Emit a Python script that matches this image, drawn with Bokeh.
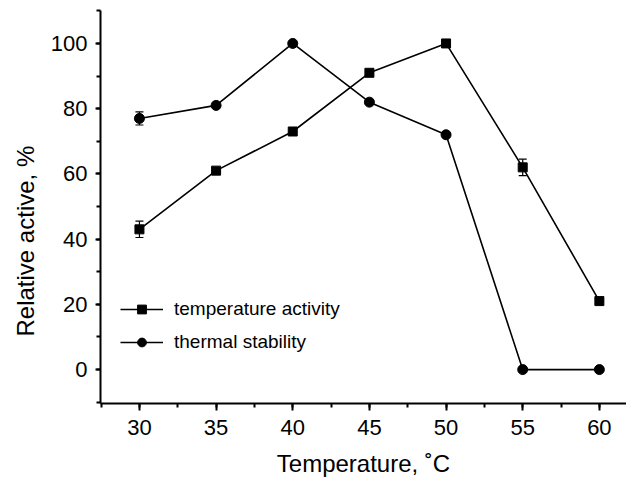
from bokeh.plotting import figure
from bokeh.models import (ColumnDataSource, SingleIntervalTicker, Legend, LegendItem,
                          Whisker, TeeHead, Range1d, Title)
from bokeh.embed import file_html
from bokeh.resources import INLINE

# ---- data ----
temperature = [30, 35, 40, 45, 50, 55, 60]
temp_activity = [43, 61, 73, 91, 100, 62, 21]
temp_activity_err = [2.5, 0, 0, 0, 0, 2.5, 0]
thermal_stability = [77, 81, 100, 82, 72, 0, 0]
thermal_stability_err = [2, 0, 0, 0, 0, 0, 0]

series_names = ["temperature activity", "thermal stability"]
x_title = "Temperature, ˚C"
y_title = "Relative active, %"

FONT = "Liberation Sans"

p = figure(output_backend="svg", toolbar_location=None,
           frame_width=526, frame_height=393,
           x_range=Range1d(27.46, 61.77), y_range=Range1d(-10.4, 110.1))
p.min_border_left = 100
p.min_border_right = 0
p.min_border_top = 10
p.min_border_bottom = 79
p.outline_line_color = None
p.xgrid.visible = False
p.ygrid.visible = False
p.background_fill_color = "white"
p.border_fill_color = "white"

# axes
p.xaxis.ticker = SingleIntervalTicker(interval=5, num_minor_ticks=2)
p.yaxis.ticker = SingleIntervalTicker(interval=20, num_minor_ticks=2)
for ax in (p.xaxis, p.yaxis):
    ax.axis_line_width = 2
    ax.axis_line_color = "black"
    ax.major_tick_line_width = 2
    ax.minor_tick_line_width = 2
    ax.major_tick_line_color = "black"
    ax.minor_tick_line_color = "black"
    ax.major_tick_in = 0
    ax.minor_tick_in = 0
    ax.major_label_text_font = FONT
    ax.major_label_text_font_size = "22px"
    ax.major_label_text_color = "black"
    ax.axis_label_text_font = FONT
    ax.axis_label_text_font_size = "24px"
    ax.axis_label_text_font_style = "normal"
    ax.axis_label_text_color = "black"
p.xaxis.major_tick_out = 7
p.xaxis.minor_tick_out = 4
p.yaxis.major_tick_out = 5
p.yaxis.minor_tick_out = 4
p.xaxis.major_label_standoff = 9
p.yaxis.major_label_standoff = 8
p.xaxis.axis_label = x_title
p.xaxis.axis_label_standoff = 12

ytitle = Title(text=y_title, align="left", offset=67, standoff=17,
               text_font=FONT, text_font_size="24px", text_font_style="normal",
               text_color="black")
p.add_layout(ytitle, "left")

src_a = ColumnDataSource(dict(x=temperature, y=temp_activity,
                              lo=[v - e for v, e in zip(temp_activity, temp_activity_err)],
                              hi=[v + e for v, e in zip(temp_activity, temp_activity_err)]))
src_s = ColumnDataSource(dict(x=temperature, y=thermal_stability,
                              lo=[v - e for v, e in zip(thermal_stability, thermal_stability_err)],
                              hi=[v + e for v, e in zip(thermal_stability, thermal_stability_err)]))

for src in (src_a, src_s):
    w = Whisker(base="x", upper="hi", lower="lo", source=src, dimension="height",
                line_color="black", line_width=1.2,
                upper_head=TeeHead(size=8, line_color="black", line_width=1.2),
                lower_head=TeeHead(size=8, line_color="black", line_width=1.2))
    p.add_layout(w)

la = p.line("x", "y", source=src_a, line_color="black", line_width=1.6)
ma = p.scatter("x", "y", source=src_a, marker="square", size=9,
               fill_color="black", line_color="black")
ls = p.line("x", "y", source=src_s, line_color="black", line_width=1.6)
ms = p.scatter("x", "y", source=src_s, marker="circle", size=10,
               fill_color="black", line_color="black")

legend = Legend(items=[LegendItem(label=series_names[0], renderers=[la, ma]),
                       LegendItem(label=series_names[1], renderers=[ls, ms])],
                location=(20, 50))
legend.glyph_width = 43
legend.glyph_height = 22
legend.spacing = 11
legend.padding = 0
legend.margin = 0
legend.label_standoff = 11
legend.border_line_color = None
legend.background_fill_alpha = 0
legend.label_text_font = FONT
legend.label_text_font_size = "19px"
legend.label_text_color = "black"
p.add_layout(legend, "center")

open("out.html", "w").write(file_html(p, INLINE))
